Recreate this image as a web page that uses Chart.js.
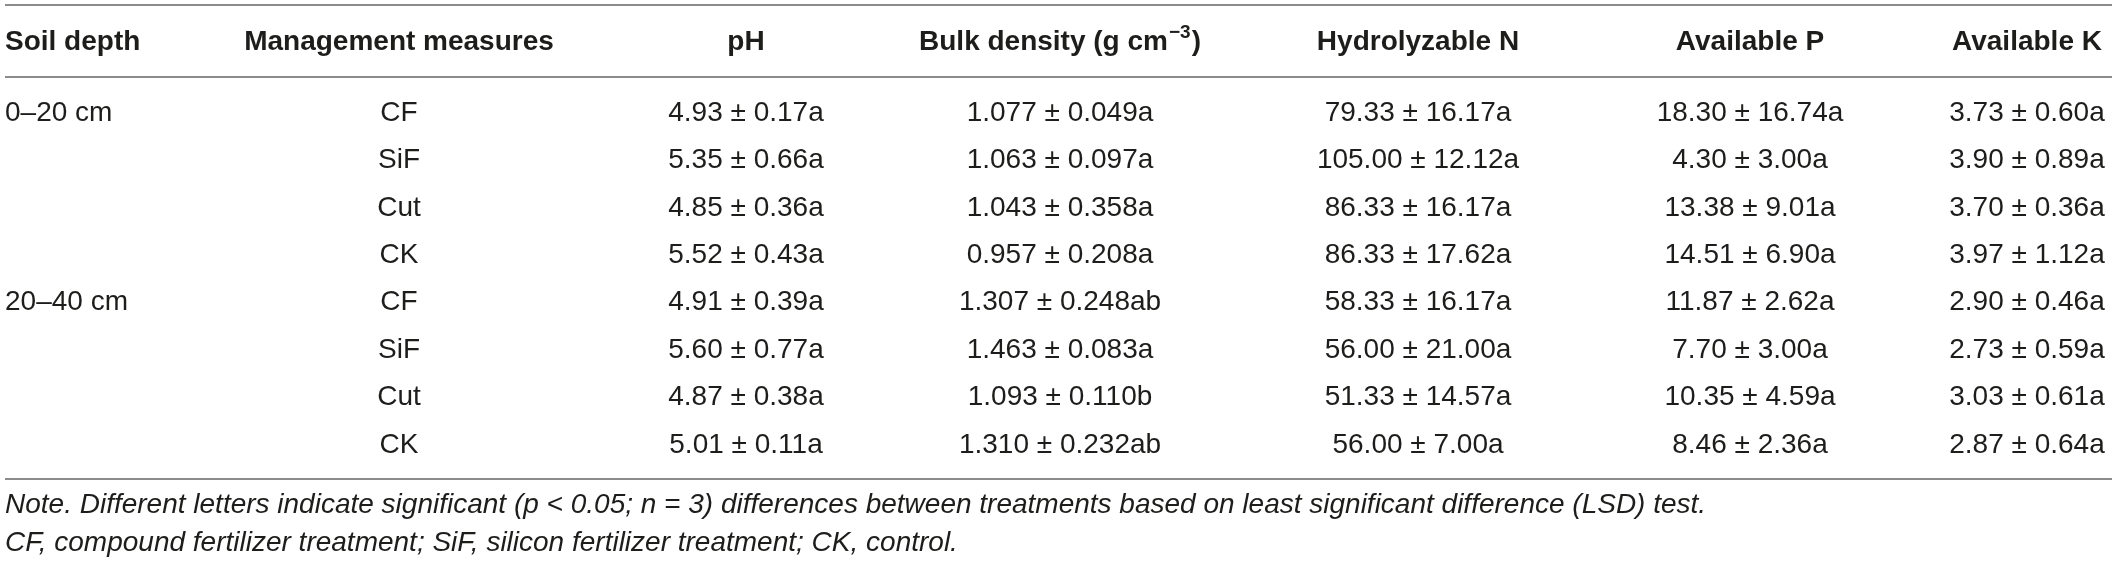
<!DOCTYPE html>
<html>
<head>
<meta charset="utf-8">
<script src="https://cdn.jsdelivr.net/npm/chart.js@4.4.1/dist/chart.umd.min.js"></script>
<style>
  html, body { margin: 0; padding: 0; background: #fff; }
  #table { display: block; }
</style>
</head>
<body>
<canvas id="table" width="2117" height="565"></canvas>
<script>
// table data
const depths = ['0–20 cm', '20–40 cm'];
const measures = ['CF', 'SiF', 'Cut', 'CK'];
const headers = ['Soil depth', 'Management measures', 'pH', 'Bulk density (g cm', 'Hydrolyzable N', 'Available P', 'Available K'];

const phMean = [4.93, 5.35, 4.85, 5.52, 4.91, 5.60, 4.87, 5.01];
const phSd = [0.17, 0.66, 0.36, 0.43, 0.39, 0.77, 0.38, 0.11];
const phSig = ['a', 'a', 'a', 'a', 'a', 'a', 'a', 'a'];

const bdMean = [1.077, 1.063, 1.043, 0.957, 1.307, 1.463, 1.093, 1.310];
const bdSd = [0.049, 0.097, 0.358, 0.208, 0.248, 0.083, 0.110, 0.232];
const bdSig = ['a', 'a', 'a', 'a', 'ab', 'a', 'b', 'ab'];

const nMean = [79.33, 105.00, 86.33, 86.33, 58.33, 56.00, 51.33, 56.00];
const nSd = [16.17, 12.12, 16.17, 17.62, 16.17, 21.00, 14.57, 7.00];
const nSig = ['a', 'a', 'a', 'a', 'a', 'a', 'a', 'a'];

const pMean = [18.30, 4.30, 13.38, 14.51, 11.87, 7.70, 10.35, 8.46];
const pSd = [16.74, 3.00, 9.01, 6.90, 2.62, 3.00, 4.59, 2.36];
const pSig = ['a', 'a', 'a', 'a', 'a', 'a', 'a', 'a'];

const kMean = [3.73, 3.90, 3.70, 3.97, 2.90, 2.73, 3.03, 2.87];
const kSd = [0.60, 0.89, 0.36, 1.12, 0.46, 0.59, 0.61, 0.64];
const kSig = ['a', 'a', 'a', 'a', 'a', 'a', 'a', 'a'];

const notes = [
  'Note. Different letters indicate significant (p < 0.05; n = 3) differences between treatments based on least significant difference (LSD) test.',
  'CF, compound fertilizer treatment; SiF, silicon fertilizer treatment; CK, control.'
];

// layout
const colX = [5, 399, 746, 1060, 1418, 1750, 2027];
const rowTop = 113, rowStep = 47.4, headerY = 42;
const ruleY = [5, 77, 479];
const noteY = [505, 543];
const bodyFont = '28px "Liberation Sans", Arial, sans-serif';
const headFont = 'bold 28px "Liberation Sans", Arial, sans-serif';
const supFont = 'bold 19px "Liberation Sans", Arial, sans-serif';
const noteFont = 'italic 28px "Liberation Sans", Arial, sans-serif';
const ink = '#1d1d1b';

const fmt = (m, s, g, d) => `${m.toFixed(d)} ± ${s.toFixed(d)}${g}`;
const columns = [
  { mean: phMean, sd: phSd, sig: phSig, dec: 2 },
  { mean: bdMean, sd: bdSd, sig: bdSig, dec: 3 },
  { mean: nMean, sd: nSd, sig: nSig, dec: 2 },
  { mean: pMean, sd: pSd, sig: pSig, dec: 2 },
  { mean: kMean, sd: kSd, sig: kSig, dec: 2 },
];

const tablePlugin = {
  id: 'tablePlugin',
  afterDraw(chart) {
    const { ctx } = chart;
    const x = chart.scales.x;
    const y = chart.scales.y;
    const px = (v) => x.getPixelForValue(v);
    const py = (v) => y.getPixelForValue(v);
    ctx.save();

    // rules
    ctx.strokeStyle = '#8c8c8c';
    ctx.lineWidth = 2;
    ruleY.forEach((r) => {
      ctx.beginPath();
      ctx.moveTo(px(5), py(r));
      ctx.lineTo(px(2112), py(r));
      ctx.stroke();
    });

    ctx.fillStyle = ink;
    ctx.textBaseline = 'middle';

    // header
    ctx.font = headFont;
    headers.forEach((h, i) => {
      ctx.textAlign = i === 0 ? 'left' : 'center';
      if (i === 3) {
        // bulk density header with superscript unit
        ctx.textAlign = 'left';
        const wMain = ctx.measureText(h).width;
        ctx.font = supFont;
        const wSup = ctx.measureText('−3').width;
        ctx.font = headFont;
        const wEnd = ctx.measureText(')').width;
        const start = px(colX[i]) - (wMain + wSup + wEnd + 2) / 2;
        ctx.fillText(h, start, py(headerY));
        ctx.font = supFont;
        ctx.fillText('−3', start + wMain + 1, py(headerY - 9));
        ctx.font = headFont;
        ctx.fillText(')', start + wMain + wSup + 2, py(headerY));
        return;
      }
      ctx.fillText(h, px(colX[i]), py(headerY));
    });

    // body
    ctx.font = bodyFont;
    for (let r = 0; r < depths.length * measures.length; r += 1) {
      const ry = py(rowTop + r * rowStep);
      if (r % measures.length === 0) {
        ctx.textAlign = 'left';
        ctx.fillText(depths[r / measures.length], px(colX[0]), ry);
      }
      ctx.textAlign = 'center';
      ctx.fillText(measures[r % measures.length], px(colX[1]), ry);
      columns.forEach((c, ci) => {
        ctx.fillText(fmt(c.mean[r], c.sd[r], c.sig[r], c.dec), px(colX[ci + 2]), ry);
      });
    }

    // notes
    ctx.font = noteFont;
    ctx.textAlign = 'left';
    notes.forEach((n, i) => ctx.fillText(n, px(5), py(noteY[i])));
    ctx.restore();
  },
};

new Chart(document.getElementById('table').getContext('2d'), {
  type: 'scatter',
  data: { datasets: [] },
  options: {
    responsive: false,
    animation: false,
    devicePixelRatio: 1,
    layout: { padding: 0 },
    plugins: { legend: { display: false }, tooltip: { enabled: false } },
    scales: {
      x: { type: 'linear', min: 0, max: 2117, display: false },
      y: { type: 'linear', min: 0, max: 565, reverse: true, display: false },
    },
  },
  plugins: [tablePlugin],
});
</script>
</body>
</html>
